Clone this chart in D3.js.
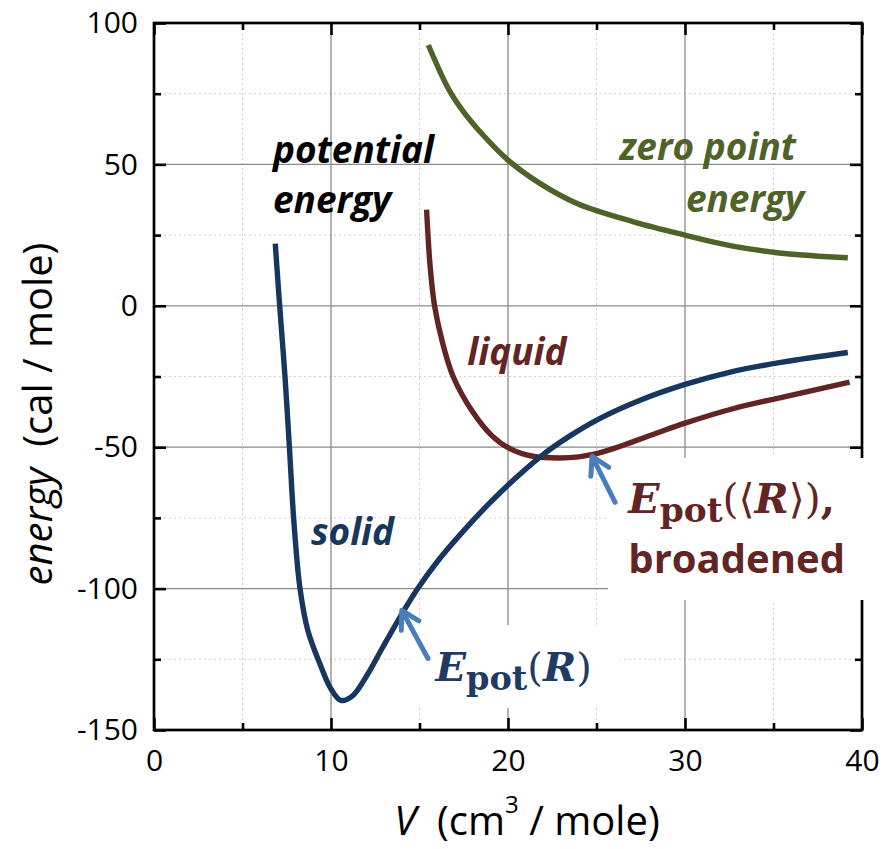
<!DOCTYPE html>
<html>
<head>
<meta charset="utf-8">
<script src="https://cdn.jsdelivr.net/npm/d3@7"></script>
<style>
  html, body { margin: 0; padding: 0; background: #fff; }
  svg { display: block; }
  text { white-space: pre; }
</style>
</head>
<body>
<div id="chart"></div>
<script>
// ---------------- data ----------------
const xMajorTicks = [0, 10, 20, 30, 40];
const xMinorTicks = [5, 15, 25, 35];
const yMajorTicks = [100, 50, 0, -50, -100, -150];
const yMinorTicks = [75, 25, -25, -75, -125];

// solid: E_pot(R)
const solidV = [6.85, 7.1, 7.4, 7.65, 7.9, 8.25, 8.7, 9.4, 10.0, 10.55, 11.2, 12.0, 12.9, 14.0, 14.9, 16.0, 17.5, 19.0, 20.5, 22.0, 23.5, 25.2, 27.5, 30.0, 32.5, 35.5, 39.2];
const solidE = [22, 0, -25, -50, -76, -100, -115, -127, -135.5, -139.5, -138, -131, -121, -109, -100, -90.5, -79.5, -69.5, -60.5, -52.5, -46, -39.8, -33.3, -27.8, -23.5, -19.9, -16.5];

// liquid: E_pot(<R>), broadened
const liquidV = [15.4, 15.6, 15.85, 16.3, 16.9, 18.0, 19.1, 20.1, 21.4, 22.9, 24.0, 25.0, 26.0, 27.0, 28.5, 30.0, 32.7, 35.6, 39.3];
const liquidE = [34, 14, 0, -13, -25, -37.5, -46, -50.5, -53.2, -53.8, -53.4, -52.3, -50.4, -48.2, -44.8, -41.5, -36.4, -32.2, -27];

// zero point energy
const zpeV = [15.5, 16.0, 16.7, 17.5, 18.5, 20.0, 21.8, 23.9, 27.1, 30.0, 32.7, 35.6, 39.2];
const zpeE = [92.2, 85, 76, 68.5, 61, 51.5, 43.3, 36.2, 29.7, 25, 21.1, 18.5, 17];

// ---------------- layout ----------------
const W = 882, H = 849;
const mLeft = 154, mTop = 23, mRight = 862, mBottom = 730;
const sans = "'Open Sans', 'DejaVu Sans', sans-serif";
const serif = "'DejaVu Serif', 'Liberation Serif', serif";

const colSolid = "#17375e";
const colLiquid = "#632523";
const colZpe = "#4f6228";
const colArrow = "#4a7ebb";

const x = d3.scaleLinear().domain([0, 40]).range([mLeft, mRight]);
const y = d3.scaleLinear().domain([-150, 100]).range([mBottom, mTop]);

const svg = d3.select("#chart").append("svg")
  .attr("width", W).attr("height", H)
  .attr("viewBox", `0 0 ${W} ${H}`);

// ---------------- grid ----------------
const grid = svg.append("g");
grid.selectAll(".vminor").data(xMinorTicks).join("line")
  .attr("x1", d => x(d)).attr("x2", d => x(d)).attr("y1", mTop).attr("y2", mBottom)
  .attr("stroke", "#cfcfcf").attr("stroke-width", 1).attr("stroke-dasharray", "2,3");
grid.selectAll(".hminor").data(yMinorTicks).join("line")
  .attr("y1", d => y(d)).attr("y2", d => y(d)).attr("x1", mLeft).attr("x2", mRight)
  .attr("stroke", "#cfcfcf").attr("stroke-width", 1).attr("stroke-dasharray", "2,3");
grid.selectAll(".vmajor").data(xMajorTicks.slice(1, -1)).join("line")
  .attr("x1", d => x(d)).attr("x2", d => x(d)).attr("y1", mTop).attr("y2", mBottom)
  .attr("stroke", "#8a8a8a").attr("stroke-width", 1.3);
grid.selectAll(".hmajor").data(yMajorTicks.slice(1, -1)).join("line")
  .attr("y1", d => y(d)).attr("y2", d => y(d)).attr("x1", mLeft).attr("x2", mRight)
  .attr("stroke", "#8a8a8a").attr("stroke-width", 1.3);

// ---------------- axes ----------------
const fmt = d => String(d);
function styleAxis(g) {
  g.select(".domain").remove();
  g.selectAll(".tick line").attr("stroke", "#000").attr("stroke-width", 2.6);
  g.selectAll(".tick text").attr("font-family", sans).attr("font-size", 30).attr("fill", "#000");
}
const axes = svg.append("g");
axes.append("g").attr("transform", `translate(0,${mBottom})`)
  .call(d3.axisBottom(x).tickValues(xMajorTicks).tickSize(-12).tickPadding(20).tickFormat(fmt))
  .call(styleAxis);
axes.append("g").attr("transform", `translate(0,${mBottom})`)
  .call(d3.axisBottom(x).tickValues(xMinorTicks).tickSize(-7).tickFormat(""))
  .call(styleAxis);
axes.append("g").attr("transform", `translate(0,${mTop})`)
  .call(d3.axisTop(x).tickValues(xMajorTicks).tickSize(-12).tickFormat(""))
  .call(styleAxis);
axes.append("g").attr("transform", `translate(0,${mTop})`)
  .call(d3.axisTop(x).tickValues(xMinorTicks).tickSize(-7).tickFormat(""))
  .call(styleAxis);
axes.append("g").attr("transform", `translate(${mLeft},0)`)
  .call(d3.axisLeft(y).tickValues(yMajorTicks).tickSize(-12).tickPadding(16).tickFormat(fmt))
  .call(styleAxis);
axes.append("g").attr("transform", `translate(${mLeft},0)`)
  .call(d3.axisLeft(y).tickValues(yMinorTicks).tickSize(-7).tickFormat(""))
  .call(styleAxis);
axes.append("g").attr("transform", `translate(${mRight},0)`)
  .call(d3.axisRight(y).tickValues(yMajorTicks).tickSize(-12).tickFormat(""))
  .call(styleAxis);
axes.append("g").attr("transform", `translate(${mRight},0)`)
  .call(d3.axisRight(y).tickValues(yMinorTicks).tickSize(-7).tickFormat(""))
  .call(styleAxis);
axes.append("rect")
  .attr("x", mLeft).attr("y", mTop).attr("width", mRight - mLeft).attr("height", mBottom - mTop)
  .attr("fill", "none").attr("stroke", "#000").attr("stroke-width", 2.7);

// ---------------- white label boxes ----------------
svg.append("rect").attr("x", 410).attr("y", 625).attr("width", 210).attr("height", 83).attr("fill", "#fff");
svg.append("rect").attr("x", 608).attr("y", 458).attr("width", 274).attr("height", 142).attr("fill", "#fff");

// ---------------- curves ----------------
const line = d3.line().x(d => x(d[0])).y(d => y(d[1])).curve(d3.curveCatmullRom.alpha(0.5));
function drawCurve(vs, es, color) {
  svg.append("path").datum(vs.map((v, i) => [v, es[i]]))
    .attr("d", line).attr("fill", "none").attr("stroke", color)
    .attr("stroke-width", 5.4).attr("stroke-linejoin", "round");
}
drawCurve(zpeV, zpeE, colZpe);
drawCurve(liquidV, liquidE, colLiquid);
drawCurve(solidV, solidE, colSolid);

// ---------------- text labels ----------------
function label(txt, vx, ey, color, opts = {}) {
  return svg.append("text").attr("x", x(vx)).attr("y", y(ey))
    .attr("font-family", opts.family || sans)
    .attr("font-size", opts.size || 37)
    .attr("font-weight", opts.weight || "bold")
    .attr("font-style", opts.style || "italic")
    .attr("fill", color).text(txt);
}
label("potential", 6.72, 50.5, "#000");
label("energy", 6.72, 32.8, "#000");
label("zero point", 26.3, 51.5, colZpe);
label("energy", 30.05, 33.1, colZpe);
label("liquid", 17.7, -21, colLiquid);
label("solid", 8.87, -84.7, colSolid);
label("broadened", 26.8, -94.6, colLiquid, { style: "normal", size: 40 });

function formula(vx, ey, color, inner, size) {
  const t = svg.append("text").attr("x", x(vx)).attr("y", y(ey))
    .attr("font-family", serif).attr("font-size", size).attr("fill", color);
  t.append("tspan").attr("font-weight", "bold").attr("font-style", "italic").text("E");
  t.append("tspan").attr("font-weight", "bold").attr("font-size", size * 0.84).attr("dy", 9).text("pot");
  t.append("tspan").attr("dy", -9).text("(");
  if (inner) t.append("tspan").attr("font-family", "'DejaVu Sans', sans-serif").text("\u27E8");
  t.append("tspan").attr("font-weight", "bold").attr("font-style", "italic").text("R");
  if (inner) t.append("tspan").attr("font-family", "'DejaVu Sans', sans-serif").text("\u27E9");
  t.append("tspan").text(")");
  if (inner) t.append("tspan").attr("font-weight", "bold").text(",");
  return t;
}
formula(15.9, -132.5, "#1f3b63", false, 40);
formula(26.8, -73.4, colLiquid, true, 41);

// ---------------- arrows ----------------
function arrow(v0, e0, v1, e1) {
  const x0 = x(v0), y0 = y(e0), x1 = x(v1), y1 = y(e1);
  const dx = x0 - x1, dy = y0 - y1, len = Math.hypot(dx, dy);
  const ux = dx / len, uy = dy / len;
  const a = 30 * Math.PI / 180, L = 20;
  const w1 = [x1 + L * (ux * Math.cos(a) - uy * Math.sin(a)), y1 + L * (ux * Math.sin(a) + uy * Math.cos(a))];
  const w2 = [x1 + L * (ux * Math.cos(-a) - uy * Math.sin(-a)), y1 + L * (ux * Math.sin(-a) + uy * Math.cos(-a))];
  const g = svg.append("g").attr("stroke", colArrow).attr("stroke-width", 5)
    .attr("fill", "none").attr("stroke-linecap", "round").attr("stroke-linejoin", "round");
  g.append("line").attr("x1", x0).attr("y1", y0).attr("x2", x1 + ux * 2).attr("y2", y1 + uy * 2);
  g.append("path").attr("d", `M${w1[0]},${w1[1]}L${x1},${y1}L${w2[0]},${w2[1]}`);
}
arrow(15.48, -124.7, 14.0, -107.7);
arrow(26.05, -69.5, 24.75, -53.2);

// ---------------- axis titles ----------------
const xt = svg.append("text").attr("x", (392 + 662) / 2).attr("y", 835)
  .attr("text-anchor", "middle").attr("font-family", sans).attr("font-size", 40).attr("fill", "#000");
xt.append("tspan").attr("font-style", "italic").text("V");
xt.append("tspan").text("  (cm");
xt.append("tspan").attr("font-size", 24).attr("dy", -22).text("3");
xt.append("tspan").attr("dy", 22).text(" / mole)");

const yt = svg.append("text").attr("transform", `translate(52,414) rotate(-90)`)
  .attr("text-anchor", "middle").attr("font-family", sans).attr("font-size", 40).attr("fill", "#000");
yt.append("tspan").attr("font-style", "italic").text("energy");
yt.append("tspan").text("  (cal / mole)");
</script>
</body>
</html>
